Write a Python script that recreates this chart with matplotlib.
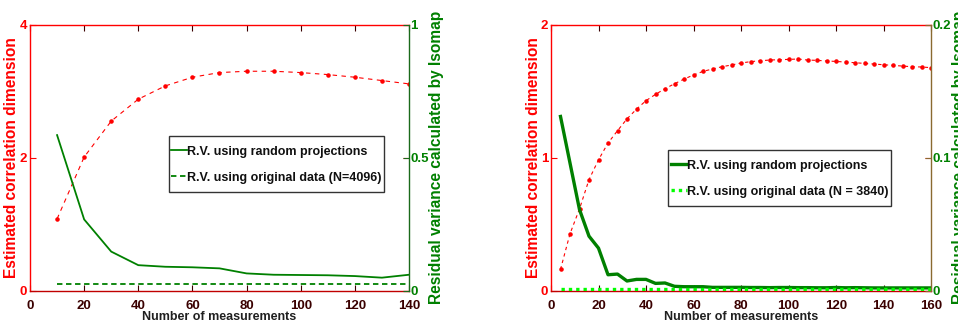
import matplotlib
matplotlib.use("Agg")
import numpy as np
import matplotlib.pyplot as plt
from matplotlib.legend_handler import HandlerLine2D

# ---------------- data ----------------
left_x = [10, 20, 30, 40, 50, 60, 70, 80, 90, 100, 110, 120, 130, 140]
left_dim = [1.08, 2.01, 2.55, 2.88, 3.08, 3.21, 3.28, 3.30, 3.30, 3.28, 3.25, 3.21, 3.16, 3.11]
left_rv_rp = [0.585, 0.268, 0.147, 0.096, 0.090, 0.088, 0.084, 0.065, 0.060, 0.059,
              0.058, 0.055, 0.049, 0.060]
left_orig_x = [10, 140]
left_orig_rv = [0.024, 0.024]

right_x = [4, 8, 12, 16, 20, 24, 28, 32, 36, 40, 44, 48, 52, 56, 60, 64, 68, 72, 76, 80,
           84, 88, 92, 96, 100, 104, 108, 112, 116, 120, 124, 128, 132, 136, 140, 144,
           148, 152, 156, 160]
right_dim = [0.160, 0.428, 0.615, 0.835, 0.984, 1.110, 1.203, 1.292, 1.365, 1.429,
             1.476, 1.519, 1.556, 1.591, 1.622, 1.649, 1.667, 1.684, 1.697, 1.712,
             1.722, 1.729, 1.734, 1.737, 1.739, 1.742, 1.734, 1.732, 1.727, 1.724,
             1.719, 1.714, 1.709, 1.704, 1.699, 1.694, 1.689, 1.684, 1.682, 1.677]
right_rv_rp = [0.131, 0.096, 0.061, 0.041, 0.032, 0.012, 0.0125, 0.0073, 0.0085, 0.0085,
               0.0055, 0.0058, 0.0033, 0.0030, 0.0030, 0.0030, 0.0025, 0.0025, 0.0025, 0.0025,
               0.0024, 0.0024, 0.0023, 0.0024, 0.0024, 0.0023, 0.0023, 0.0022, 0.0022, 0.0024,
               0.0022, 0.0023, 0.0022, 0.0021, 0.0021, 0.0021, 0.0021, 0.0021, 0.0021, 0.0021]
right_orig_x = [4, 160]
right_orig_rv = [0.0015, 0.0015]

left_xticks = [0, 20, 40, 60, 80, 100, 120, 140]
right_xticks = [0, 20, 40, 60, 80, 100, 120, 140, 160]
left_y1ticks = [0, 2, 4]
left_y2ticks = [0, 0.5, 1]
left_y2labels = ["0", "0.5", "1"]
right_y1ticks = [0, 1, 2]
right_y2ticks = [0, 0.1, 0.2]
right_y2labels = ["0", "0.1", "0.2"]

label_y1 = "Estimated correlation dimension"
label_y2 = "Residual variance calculated by Isomap"
label_x = "Number of measurements"
leg_rp = "R.V. using random projections"
leg_left_orig = "R.V. using original data (N=4096)"
leg_right_orig = "R.V. using original data (N = 3840)"

# ---------------- style ----------------
plt.rcParams['font.family'] = ['Liberation Sans', 'DejaVu Sans']
TICK_FP = dict(size=9.5, weight='bold')
TXT_FP = dict(size=9, weight='bold')

RED = '#FF0000'
GREEN = '#008000'
XTXT = '#3a0000'

fig = plt.figure(figsize=(9.58, 3.24), dpi=100)

H = 324.0
W = 958.0
bot = 1 - 290.7 / H
hgt = 266.0 / H


class LowerLine(HandlerLine2D):
    """Line handle moved down so that it sits at the text's mid-height."""

    def create_artists(self, legend, orig_handle, xdescent, ydescent, width, height,
                       fontsize, trans):
        arts = super().create_artists(legend, orig_handle, xdescent, ydescent, width,
                                      height, fontsize, trans)
        for a in arts:
            a.set_ydata(np.asarray(a.get_ydata(), dtype=float) - 0.3 * fontsize)
        return arts


def setup(ax1, ax2, xmax, xticks, y1max, y1ticks, y2max, y2ticks, y2labels, rcol):
    ax1.set_xlim(0, xmax)
    ax1.set_ylim(0, y1max)
    ax2.set_ylim(0, y2max)
    ax1.set_xticks(xticks)
    ax1.set_xticklabels([str(t) for t in xticks], color=XTXT, **TICK_FP)
    ax1.set_yticks(y1ticks)
    ax1.set_yticklabels([str(t) for t in y1ticks], color=RED, **TICK_FP)
    ax2.set_yticks(y2ticks)
    ax2.set_yticklabels(y2labels, color=GREEN, **TICK_FP)
    ax1.tick_params(axis='x', direction='in', length=4, width=0.8, color=XTXT,
                    top=True, pad=7)
    for t in ax1.xaxis.get_major_ticks():
        t.tick2line.set_color('#ff8080')
    ax1.tick_params(axis='y', direction='in', length=4, width=0.8, color=RED,
                    right=True, labelright=False, pad=2)
    ax2.tick_params(axis='y', direction='in', length=4, width=0.8, color=rcol, pad=1)
    for s in ['left', 'top']:
        ax1.spines[s].set_color(RED)
        ax1.spines[s].set_linewidth(1.0)
    ax1.spines['bottom'].set_color('#C00000')
    ax1.spines['bottom'].set_linewidth(1.0)
    ax1.spines['right'].set_visible(False)
    for s in ['left', 'top', 'bottom']:
        ax2.spines[s].set_visible(False)
    ax2.spines['right'].set_color(rcol)
    ax2.spines['right'].set_linewidth(1.0)
    ax1.set_xlabel(label_x, color='#202020', **TXT_FP)
    ax1.xaxis.set_label_coords(0.5, -(316.7 - 290.7) / 266.0)
    ax1.xaxis.label.set_verticalalignment('center')
    ax1.set_ylabel(label_y1, fontsize=11.2, fontweight='bold', color=RED, va='center')
    ax2.set_ylabel(label_y2, fontsize=11.2, fontweight='bold', color=GREEN, va='center')


def make_legend(ax, handles, anchor):
    leg = ax.legend(handles=handles, loc='upper left', bbox_to_anchor=anchor,
                    prop=TXT_FP, frameon=True, fancybox=False, borderpad=0.2,
                    handlelength=1.3, handleheight=2.75, handletextpad=0.0,
                    labelspacing=0.05, borderaxespad=0,
                    handler_map={h: LowerLine() for h in handles})
    leg.get_frame().set_edgecolor('black')
    leg.get_frame().set_linewidth(1.0)
    for t in leg.get_texts():
        t.set_color('#101010')
    return leg


# ---------------- left panel ----------------
axL = fig.add_axes([30 / W, bot, 379 / W, hgt])
axL2 = axL.twinx()
axL.plot(left_x, left_dim, color=RED, linestyle=(0, (4, 4)), linewidth=0.8,
         marker='.', markersize=4.5)
l1, = axL2.plot(left_x, left_rv_rp, color=GREEN, linewidth=1.3, label=leg_rp)
l2, = axL2.plot(left_orig_x, left_orig_rv, color=GREEN, linewidth=1.3,
                linestyle=(0, (3, 2)), label=leg_left_orig)
setup(axL, axL2, 140, left_xticks, 4, left_y1ticks, 1, left_y2ticks, left_y2labels, '#1a6a1a')
axL.yaxis.set_label_coords((12 - 30) / 379.0, 0.5)
axL2.yaxis.set_label_coords((437 - 30) / 379.0, 0.5)
make_legend(axL2, [l1, l2], (0.366, 0.583))

# ---------------- right panel ----------------
axR = fig.add_axes([551 / W, bot, 380 / W, hgt])
axR2 = axR.twinx()
axR.plot(right_x, right_dim, color=RED, linestyle=(0, (3, 3)), linewidth=0.8,
         marker='.', markersize=4.5)
r1, = axR2.plot(right_x, right_rv_rp, color=GREEN, linewidth=2.4, label=leg_rp)
r2, = axR2.plot(right_orig_x, right_orig_rv, color='#00FF00', linewidth=2.4,
                linestyle=(0, (1.0, 1.2)), label=leg_right_orig)
setup(axR, axR2, 160, right_xticks, 2, right_y1ticks, 0.2, right_y2ticks, right_y2labels,
      '#8a6a30')
axR.yaxis.set_label_coords((533.7 - 551) / 380.0, 0.5)
axR2.yaxis.set_label_coords((959.5 - 551) / 380.0, 0.5)
make_legend(axR2, [r1, r2], (0.309, 0.529))

fig.savefig('out.png', dpi=100)
